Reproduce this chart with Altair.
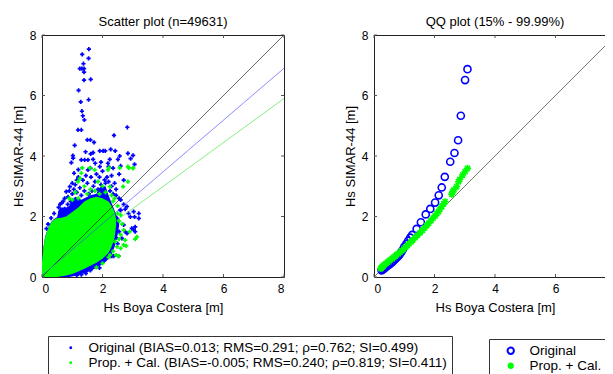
import altair as alt
import pandas as pd

FONT = "Liberation Sans"
BLUE = "#0000ff"
GREEN = "#00ff00"

# ---------------- data ----------------
tick_values = [0, 2, 4, 6, 8]
right_x_labels = [0, 2, 4, 6]   # the "8" of the right panel lies beyond the picture's edge

title_left = "Scatter plot (n=49631)"
title_right = "QQ plot (15% - 99.99%)"
x_title = "Hs Boya Costera [m]"
y_title = "Hs SIMAR-44 [m]"

lab_orig = "Original (BIAS=0.013; RMS=0.291; \u03c1=0.762; SI=0.499)"
lab_cal = "Prop. + Cal. (BIAS=-0.005; RMS=0.240; \u03c1=0.819; SI=0.411)"
qq_labels = ["Original", "Prop. + Cal."]

# dense part of the cloud (envelopes)
blue_env_x = [0.0, 0.05, 0.1, 0.2, 0.3, 0.4, 0.5, 0.55, 0.6, 0.7, 0.8, 0.9, 1.0, 1.1, 1.2, 1.3, 1.4, 1.6, 1.8, 1.9, 2.0, 2.1, 2.2, 2.3, 2.4, 2.5, 2.55]
blue_env_hi = [0.5, 1.0, 1.32, 1.62, 1.82, 1.92, 1.98, 2.2, 2.3, 2.3, 2.3, 2.35, 2.55, 2.65, 2.6, 2.55, 2.6, 2.7, 2.75, 2.95, 3.0, 3.0, 2.7, 2.45, 2.2, 1.95, 1.8]
blue_env_lo = [0.0, 0.0, 0.0, 0.0, 0.0, 0.0, 0.0, 0.0, 0.0, 0.0, 0.0, 0.0, 0.02, 0.04, 0.06, 0.09, 0.12, 0.2, 0.3, 0.36, 0.42, 0.5, 0.6, 0.75, 1.0, 1.4, 1.7]

green_env_x = [0.0, 0.05, 0.1, 0.2, 0.3, 0.4, 0.5, 0.6, 0.8, 1.0, 1.2, 1.4, 1.6, 1.8, 2.0, 2.2, 2.3, 2.4, 2.45]
green_env_hi = [0.5, 1.0, 1.3, 1.6, 1.8, 1.9, 1.95, 1.95, 2.0, 2.15, 2.3, 2.5, 2.6, 2.65, 2.6, 2.5, 2.35, 2.15, 1.9]
green_env_lo = [0.0, 0.0, 0.0, 0.0, 0.0, 0.0, 0.0, 0.02, 0.05, 0.1, 0.18, 0.27, 0.37, 0.47, 0.6, 0.8, 1.0, 1.3, 1.7]

# scattered points outside the dense cloud
blue_pts_x = [1.55, 1.33, 1.54, 1.37, 1.25, 1.32, 1.39, 1.39, 1.39, 1.61, 1.21, 1.54, 1.28, 1.32, 1.35, 1.40,
              2.82, 1.19, 1.30, 2.38, 1.50, 1.60, 1.72, 1.08, 1.44, 1.61, 1.69, 1.91, 2.02, 2.09, 2.27, 2.42,
              1.02, 1.03, 2.84, 3.01, 2.57, 1.30, 1.41, 1.52, 1.69, 2.24, 2.51, 2.93, 3.06, 0.97, 1.76, 1.91,
              2.18, 2.20, 2.60,
              1.06, 1.52, 0.92, 0.80, 0.86, 2.07, 2.40, 1.20, 1.35, 1.45, 1.62, 1.80, 1.95, 2.15, 2.30, 2.55,
              2.70, 1.10, 1.25, 1.70, 2.25, 2.45, 1.00, 0.70, 0.60, 0.55, 0.40, 0.30, 0.20, 0.15, 2.60, 2.70,
              2.60, 0.95,
              0.65, 0.75, 0.85, 0.90, 1.00, 1.05, 1.15, 1.15, 1.30, 1.40, 1.50, 1.55, 1.65, 1.75, 1.85, 1.90,
              2.00, 2.05, 2.10, 2.20, 2.30, 2.35, 2.45, 2.55, 1.20, 1.60, 1.95, 2.35, 0.75, 0.60,
              3.03, 3.20, 3.20, 3.06, 2.86, 2.92, 2.75, 2.81, 2.59, 2.48, 2.42, 2.70, 2.75, 2.81, 2.97, 3.03,
              3.08, 3.08, 2.64, 2.26, 2.31, 2.37, 2.53, 2.20, 1.87, 1.71, 1.90, 2.00, 2.10, 1.60, 1.45, 1.30,
              1.15, 2.50, 2.45, 2.55]
blue_pts_y = [7.53, 7.36, 7.23, 7.05, 6.89, 6.89, 6.89, 6.77, 6.51, 6.53, 6.17, 5.86, 5.79, 5.48, 5.33, 5.19,
              4.95, 4.86, 4.86, 4.68, 4.53, 4.53, 4.45, 4.35, 4.14, 4.07, 4.11, 4.17, 4.17, 4.17, 4.22, 4.17,
              4.01, 3.93, 4.09, 4.02, 4.00, 3.87, 3.87, 3.87, 3.89, 3.89, 3.89, 3.91, 3.72, 3.78, 3.76, 3.65,
              3.76, 3.65, 3.67,
              3.43, 3.54, 2.99, 2.82, 2.65, 3.21, 3.10, 3.30, 3.20, 3.35, 3.30, 3.40, 3.05, 3.30, 3.00, 3.40,
              3.20, 3.05, 2.95, 3.00, 2.85, 2.70, 2.75, 2.50, 2.40, 2.30, 2.10, 1.95, 1.75, 1.60, 2.55, 2.40,
              2.20, 2.50,
              2.45, 2.60, 2.40, 2.85, 3.10, 2.90, 2.80, 3.20, 2.70, 2.85, 3.10, 2.75, 2.85, 3.15, 2.90, 3.30,
              3.50, 2.90, 3.10, 3.15, 3.35, 2.75, 2.90, 2.60, 3.55, 3.60, 3.80, 3.60, 2.25, 2.15,
              2.16, 2.10, 1.94, 1.99, 2.10, 1.99, 2.24, 2.33, 2.22, 1.94, 1.72, 1.72, 1.50, 1.44, 1.61, 1.56,
              1.50, 1.66, 1.28, 0.69, 0.69, 0.69, 0.69, 0.89, 0.45, 0.40, 0.30, 0.50, 0.60, 0.22, 0.12, 0.08,
              0.05, 1.10, 1.30, 1.50]

green_pts_x = [1.33, 1.58, 2.21, 2.57, 2.87, 3.01, 1.30, 1.25, 1.74, 2.18, 2.84, 3.01, 2.84, 2.68, 1.19, 2.24,
               1.85, 1.40, 1.60, 2.00, 1.10, 0.90, 2.40, 3.08, 3.14, 2.75, 2.70, 2.78, 2.42, 2.48, 2.53, 2.45,
               2.25, 2.60, 2.90, 2.50, 2.55,
               1.00, 1.20, 1.50, 1.75, 1.90, 2.10, 2.30, 2.35, 2.50, 2.60, 2.65, 2.70, 2.55, 2.60, 2.35, 2.20,
               2.00, 1.80]
green_pts_y = [3.61, 3.61, 3.61, 3.61, 3.61, 3.61, 3.43, 3.26, 3.54, 3.54, 3.65, 3.59, 3.15, 2.99, 3.15, 2.99,
               3.15, 3.00, 2.90, 3.00, 2.80, 2.60, 2.60, 1.25, 1.33, 1.22, 1.06, 1.03, 1.17, 1.00, 0.69, 0.72,
               0.72, 1.40, 1.50, 2.10, 1.85,
               2.55, 2.60, 2.75, 2.85, 2.75, 2.80, 2.70, 2.50, 2.35, 2.05, 1.75, 1.55, 1.25, 0.95, 0.85, 0.65,
               0.45, 0.32]

# reference and fit lines
diag_x = [0, 8]
diag_y = [0, 8]
fit_blue_y = [0.05, 6.9]
fit_green_y = [0.08, 5.9]

# QQ plot quantiles
qq_blue_x = [0.25, 0.28, 0.32, 0.36, 0.40, 0.45, 0.50, 0.55, 0.60, 0.65, 0.70, 0.75, 0.80, 0.85, 0.90,
             0.95, 1.00, 1.07, 1.13, 1.20, 1.26, 1.41, 1.55, 1.71, 1.86, 2.02, 2.14, 2.24, 2.34, 2.52,
             2.66, 2.78, 2.87, 3.01, 3.09]
qq_blue_y = [0.22, 0.24, 0.27, 0.30, 0.33, 0.37, 0.41, 0.45, 0.49, 0.54, 0.59, 0.64, 0.69, 0.75, 0.82,
             0.90, 1.00, 1.10, 1.20, 1.30, 1.39, 1.59, 1.81, 2.07, 2.25, 2.46, 2.70, 2.96, 3.31, 3.81,
             4.10, 4.52, 5.33, 6.51, 6.87]
qq_green_x = [0.22, 0.25, 0.28, 0.31, 0.35, 0.40, 0.45, 0.50, 0.55, 0.60, 0.65, 0.70, 0.75, 0.80, 0.86,
              0.92, 0.98, 1.04, 1.10, 1.16, 1.22, 1.28, 1.36, 1.44, 1.52, 1.60, 1.67, 1.74, 1.81, 1.88,
              1.95, 2.02, 2.08, 2.13, 2.18, 2.24, 2.30, 2.35, 2.57, 2.60, 2.64, 2.73, 2.79, 2.84, 2.93,
              3.01, 3.09]
qq_green_y = [0.28, 0.31, 0.34, 0.37, 0.41, 0.45, 0.49, 0.53, 0.57, 0.61, 0.65, 0.69, 0.73, 0.77, 0.82,
              0.87, 0.92, 0.98, 1.04, 1.10, 1.16, 1.22, 1.30, 1.38, 1.46, 1.54, 1.62, 1.70, 1.78, 1.86,
              1.95, 2.02, 2.10, 2.16, 2.24, 2.33, 2.42, 2.49, 2.74, 2.82, 2.88, 2.99, 3.15, 3.23, 3.37,
              3.48, 3.59]

# ---------------- tables ----------------
blue_env = pd.DataFrame({"x": blue_env_x, "lo": blue_env_lo, "hi": blue_env_hi})
green_env = pd.DataFrame({"x": green_env_x, "lo": green_env_lo, "hi": green_env_hi})
blue_pts = pd.DataFrame({"x": blue_pts_x, "y": blue_pts_y, "s": lab_orig})
green_pts = pd.DataFrame({"x": green_pts_x, "y": green_pts_y, "s": lab_cal})
diag = pd.DataFrame({"x": diag_x, "y": diag_y})
fit_b = pd.DataFrame({"x": diag_x, "y": fit_blue_y})
fit_g = pd.DataFrame({"x": diag_x, "y": fit_green_y})
qq = pd.concat([
    pd.DataFrame({"x": qq_blue_x, "y": qq_blue_y, "s": qq_labels[0]}),
    pd.DataFrame({"x": qq_green_x, "y": qq_green_y, "s": qq_labels[1]}),
], ignore_index=True)
ticks_df = pd.DataFrame({"t": tick_values})

W, H = 242, 242
sc = alt.Scale(domain=[0, 8], nice=False)
TL = 3
TICKC = "#555555"


def inner_ticks():
    b = alt.Chart(ticks_df)
    return [
        b.mark_rule(color=TICKC, strokeWidth=1).encode(x=alt.X("t:Q", scale=sc), y=alt.value(H), y2=alt.value(H - TL)),
        b.mark_rule(color=TICKC, strokeWidth=1).encode(x=alt.X("t:Q", scale=sc), y=alt.value(0), y2=alt.value(TL)),
        b.mark_rule(color=TICKC, strokeWidth=1).encode(y=alt.Y("t:Q", scale=sc), x=alt.value(0), x2=alt.value(TL)),
        b.mark_rule(color=TICKC, strokeWidth=1).encode(y=alt.Y("t:Q", scale=sc), x=alt.value(W), x2=alt.value(W - TL)),
    ]


def title(t):
    return alt.TitleParams(t, font=FONT, fontSize=13, fontWeight="normal", color="black", offset=0)


left_color = alt.Color(
    "s:N",
    scale=alt.Scale(domain=[lab_orig, lab_cal], range=[BLUE, GREEN]),
    legend=alt.Legend(
        orient="none", legendX=6, legendY=301, title=None,
        strokeColor="#333333", fillColor="white", padding=5,
        symbolOffset=11, labelOffset=11, symbolType="circle", symbolSize=8,
        labelFont=FONT, labelFontSize=13.5, labelLimit=1000, rowPadding=0,
        symbolStrokeWidth=0,
    ),
)

area_b = alt.Chart(blue_env).mark_area(color=BLUE, opacity=1).encode(
    x=alt.X("x:Q", scale=sc, title=x_title, axis=alt.Axis(values=tick_values)),
    y=alt.Y("hi:Q", scale=sc, title=y_title, axis=alt.Axis(values=tick_values)),
    y2="lo:Q",
)
area_g = alt.Chart(green_env).mark_area(color=GREEN, opacity=1).encode(
    x=alt.X("x:Q", scale=sc), y=alt.Y("hi:Q", scale=sc), y2="lo:Q",
)
pts_b = alt.Chart(blue_pts).mark_point(shape="cross", filled=True, size=18, opacity=1).encode(
    x=alt.X("x:Q", scale=sc), y=alt.Y("y:Q", scale=sc), color=left_color,
)
pts_g = alt.Chart(green_pts).mark_point(shape="cross", filled=True, size=18, opacity=1).encode(
    x=alt.X("x:Q", scale=sc), y=alt.Y("y:Q", scale=sc), color=left_color,
)
line_d = alt.Chart(diag).mark_line(color="#000000", strokeWidth=0.6).encode(
    x=alt.X("x:Q", scale=sc), y=alt.Y("y:Q", scale=sc))
line_b = alt.Chart(fit_b).mark_line(color="#4040ff", strokeWidth=0.6).encode(
    x=alt.X("x:Q", scale=sc), y=alt.Y("y:Q", scale=sc))
line_g = alt.Chart(fit_g).mark_line(color="#30e030", strokeWidth=0.6).encode(
    x=alt.X("x:Q", scale=sc), y=alt.Y("y:Q", scale=sc))

left = alt.layer(area_b, pts_b, area_g, pts_g, line_d, line_b, line_g, *inner_ticks()).properties(
    width=W, height=H, title=title(title_left)
)

ASTER = "M-1,0L1,0M0,-1L0,1M-0.72,-0.72L0.72,0.72M-0.72,0.72L0.72,-0.72"
right_legend = alt.Legend(
    orient="none", legendX=115, legendY=304, title=None,
    strokeColor="#333333", fillColor="white", padding=5,
    symbolOffset=10, labelOffset=12, symbolSize=40, symbolStrokeWidth=2,
    labelFont=FONT, labelFontSize=13.5, labelLimit=1000, rowPadding=0,
)
qq_line = alt.Chart(diag).mark_line(color="#555555", strokeWidth=0.8).encode(
    x=alt.X("x:Q", scale=sc, title=x_title, axis=alt.Axis(values=right_x_labels)),
    y=alt.Y("y:Q", scale=sc, title=y_title, axis=alt.Axis(values=tick_values)),
)
qq_pts = alt.Chart(qq).mark_point(filled=False, size=50, strokeWidth=1.6, opacity=1).encode(
    x=alt.X("x:Q", scale=sc), y=alt.Y("y:Q", scale=sc),
    color=alt.Color("s:N", scale=alt.Scale(domain=qq_labels, range=[BLUE, GREEN]), legend=right_legend),
    shape=alt.Shape("s:N", scale=alt.Scale(domain=qq_labels, range=["circle", ASTER]), legend=right_legend),
)
right = alt.layer(qq_line, qq_pts, *inner_ticks()).properties(
    width=W, height=H, title=title(title_right)
)

chart = alt.hconcat(left, right, spacing=90, bounds="flush").resolve_scale(
    color="independent", shape="independent"
).properties(
    autosize=alt.AutoSizeParams(type="none"),
    padding={"left": 34, "top": 27, "right": 563, "bottom": 331},
).configure_view(
    stroke="#222222", strokeWidth=1
).configure_axis(
    labelFont=FONT, labelFontSize=12, labelColor="black", labelPadding=6,
    titleFont=FONT, titleFontSize=13, titleFontWeight="normal", titleColor="black",
    titlePadding=7, ticks=False, domain=False, grid=False,
).configure_axisY(titlePadding=4)

chart.save("out.html", embed_options={"renderer": "svg", "actions": False})
